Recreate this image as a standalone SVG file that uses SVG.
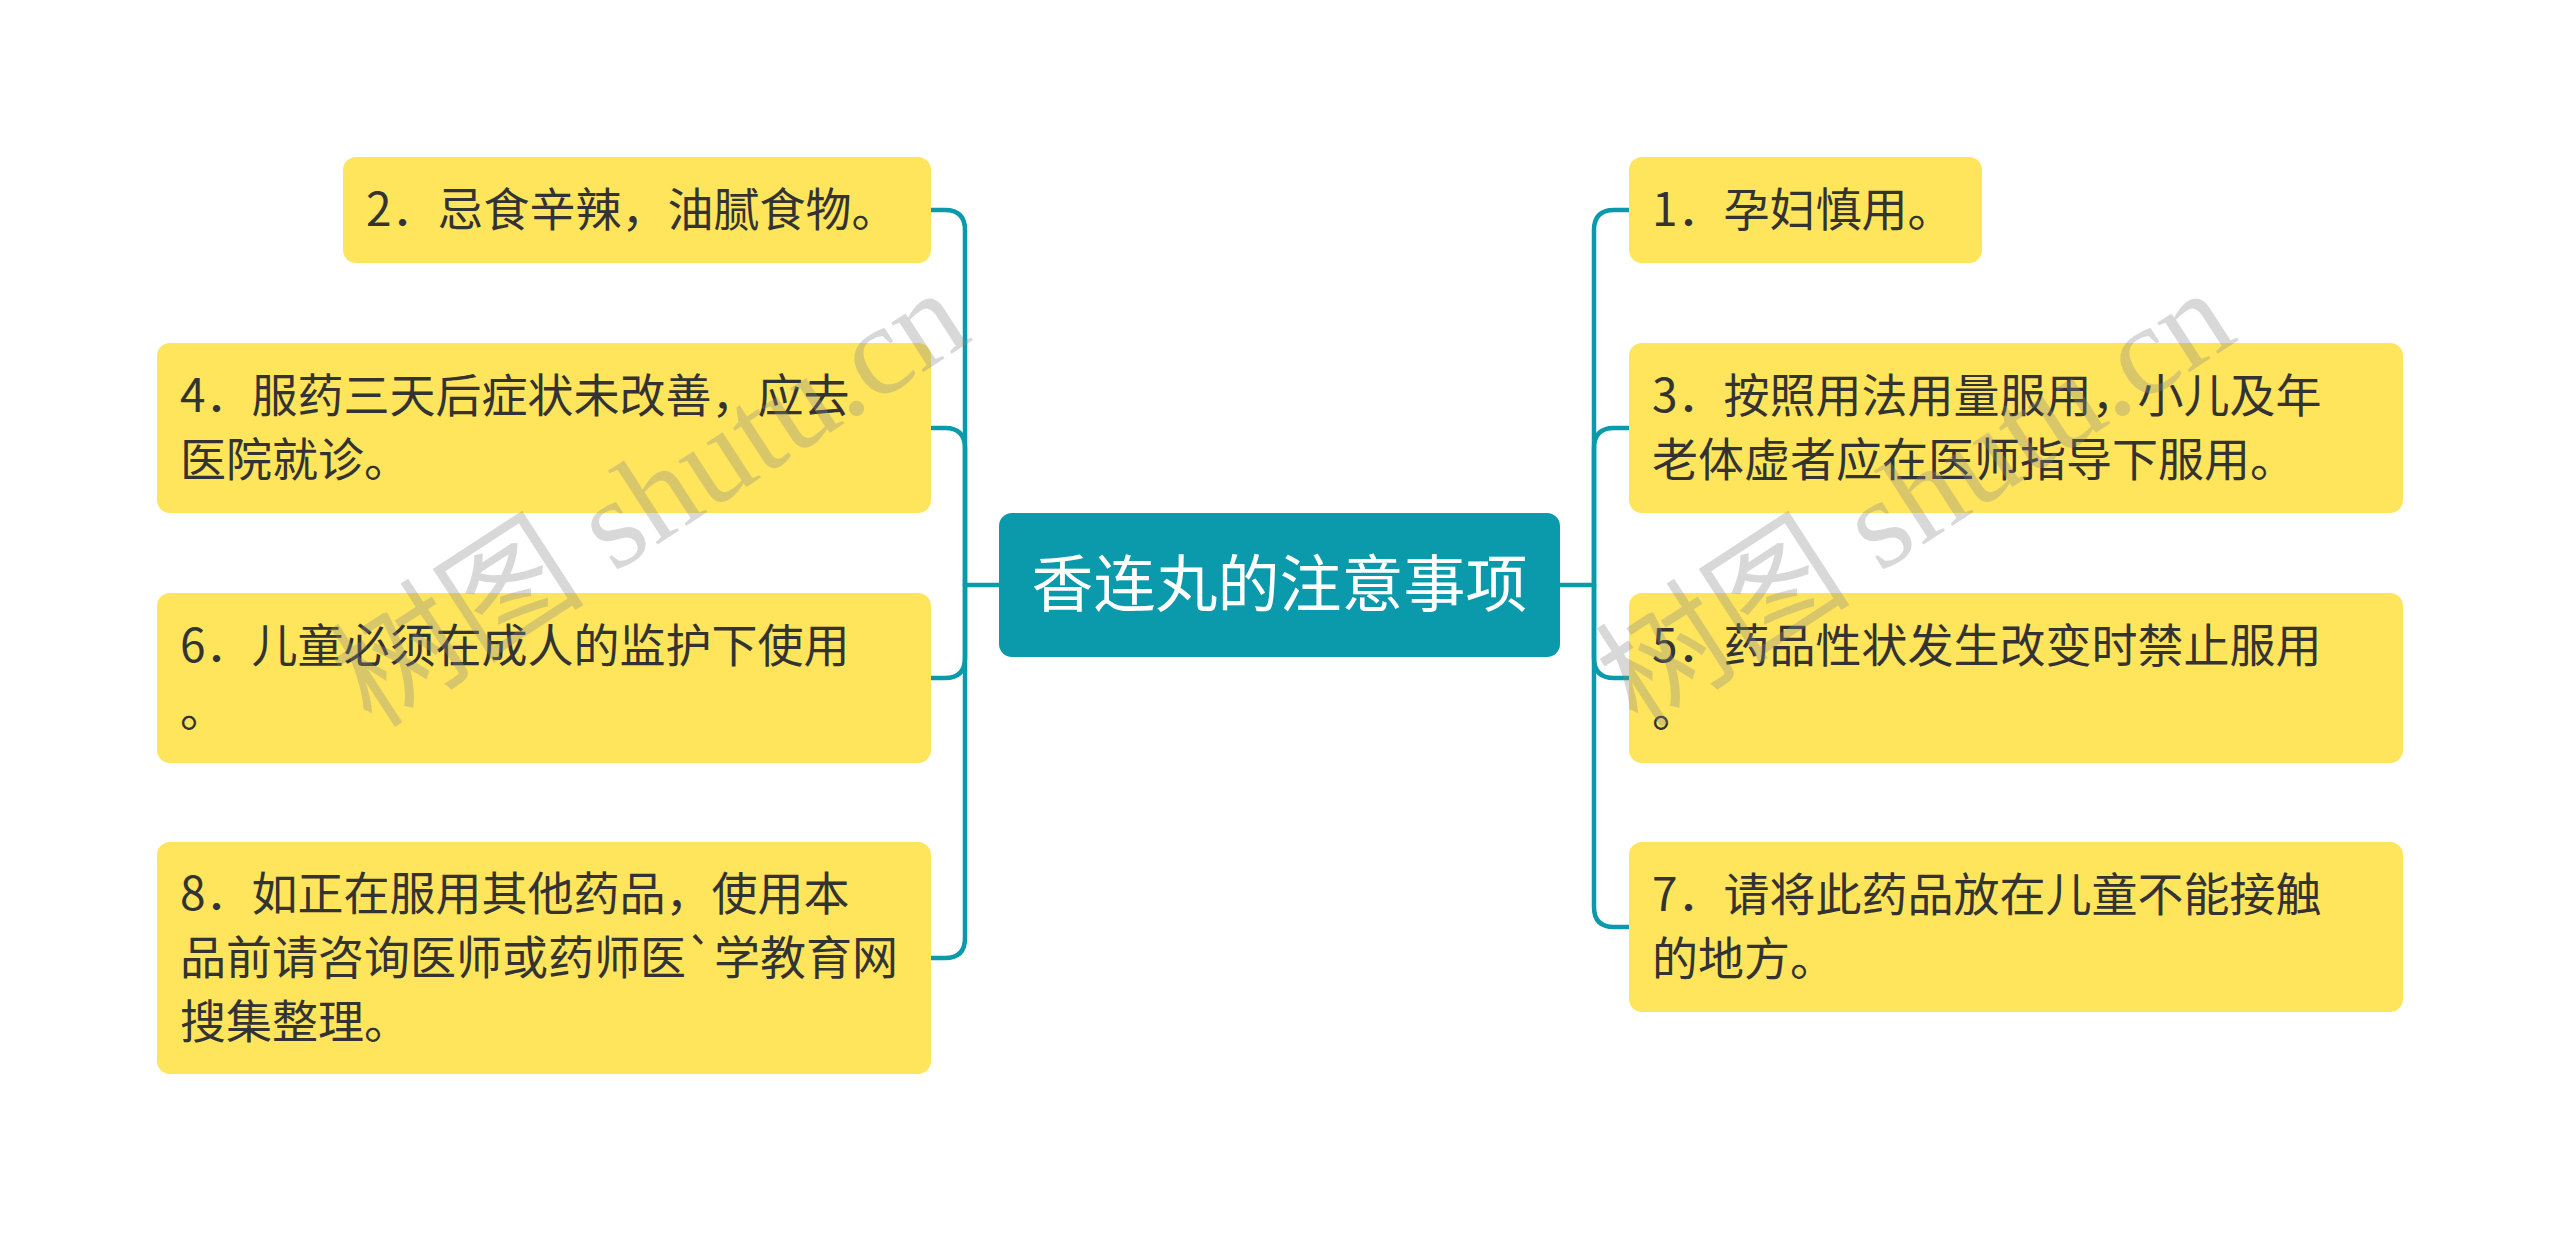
<svg xmlns="http://www.w3.org/2000/svg" width="2560" height="1233" viewBox="0 0 2560 1233">
<style>
.node{fill:#FFE55C;}
.center{fill:#0B9AAB;}
.t{font-family:"Noto Sans CJK SC","Noto Sans",sans-serif;font-size:46px;fill:#333333;}
.ct{font-family:"Noto Sans CJK SC","Noto Sans",sans-serif;font-size:62px;fill:#FFFFFF;text-anchor:middle;}
.link{fill:none;stroke:#0B9AAB;stroke-width:4.5;stroke-linecap:round;}
.wm{font-family:"Liberation Serif","Noto Sans CJK SC",serif;font-size:128px;fill:#8a8a8a;fill-opacity:0.33;}
</style>
<rect width="2560" height="1233" fill="#FFFFFF"/>
<g id="connectors">
<path class="link" d="M 931 210 H 945 Q 965 210 965 230 V 585"/>
<path class="link" d="M 931 428 H 945 Q 965 428 965 448 V 585"/>
<path class="link" d="M 931 678 H 945 Q 965 678 965 658 V 585"/>
<path class="link" d="M 931 958 H 945 Q 965 958 965 938 V 585"/>
<path class="link" d="M 965 585 H 999"/>
<path class="link" d="M 1629 210 H 1614 Q 1594 210 1594 230 V 585"/>
<path class="link" d="M 1629 428 H 1614 Q 1594 428 1594 448 V 585"/>
<path class="link" d="M 1629 678 H 1614 Q 1594 678 1594 658 V 585"/>
<path class="link" d="M 1629 927 H 1614 Q 1594 927 1594 907 V 585"/>
<path class="link" d="M 1560 585 H 1594"/>
</g>
<g id="center">
<rect class="center" x="999" y="513" width="561" height="144" rx="13"/>
<text class="ct" x="1279.5" y="607">香连丸的注意事项</text>
</g>
<g id="n2">
<rect class="node" x="343" y="157" width="588" height="106" rx="13"/>
<text class="t" x="366" y="226">2．忌食辛辣，油腻食物。</text>
</g>
<g id="n4">
<rect class="node" x="157" y="343" width="774" height="170" rx="13"/>
<text class="t" x="180" y="412">4．服药三天后症状未改善，应去</text>
<text class="t" x="180" y="476">医院就诊。</text>
</g>
<g id="n6">
<rect class="node" x="157" y="593" width="774" height="170" rx="13"/>
<text class="t" x="180" y="662">6．儿童必须在成人的监护下使用</text>
<text class="t" x="180" y="726">。</text>
</g>
<g id="n8">
<rect class="node" x="157" y="842" width="774" height="232" rx="13"/>
<text class="t" x="180" y="910">8．如正在服用其他药品，使用本</text>
<text class="t" x="180" y="974">品前请咨询医师或药师医`学教育网</text>
<text class="t" x="180" y="1038">搜集整理。</text>
</g>
<g id="n1">
<rect class="node" x="1629" y="157" width="353" height="106" rx="13"/>
<text class="t" x="1652" y="226">1．孕妇慎用。</text>
</g>
<g id="n3">
<rect class="node" x="1629" y="343" width="774" height="170" rx="13"/>
<text class="t" x="1652" y="412">3．按照用法用量服用，小儿及年</text>
<text class="t" x="1652" y="476">老体虚者应在医师指导下服用。</text>
</g>
<g id="n5">
<rect class="node" x="1629" y="593" width="774" height="170" rx="13"/>
<text class="t" x="1652" y="662">5．药品性状发生改变时禁止服用</text>
<text class="t" x="1652" y="726">。</text>
</g>
<g id="n7">
<rect class="node" x="1629" y="842" width="774" height="170" rx="13"/>
<text class="t" x="1652" y="911">7．请将此药品放在儿童不能接触</text>
<text class="t" x="1652" y="975">的地方。</text>
</g>
<g id="watermark">
<text class="wm" transform="translate(372 730) rotate(-33)">树图 shutu.cn</text>
<text class="wm" transform="translate(1638 730) rotate(-33)">树图 shutu.cn</text>
</g>
</svg>
